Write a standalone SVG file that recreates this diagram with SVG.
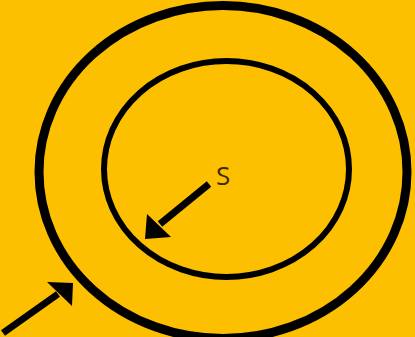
<svg xmlns="http://www.w3.org/2000/svg" width="415" height="337" viewBox="0 0 415 337">
  <style>
    .ring { fill: none; stroke: #000; }
    .shaft { stroke: #000; stroke-width: 7; stroke-linecap: butt; }
    .head { fill: #000; }
    .lbl { font-family: "Open Sans", "Liberation Sans", sans-serif; font-size: 26px; fill: #3d2c00; }
  </style>
  <rect width="415" height="337" fill="#FDC000"/>
  <g id="outer-ring">
    <ellipse class="ring" cx="223" cy="172" rx="184" ry="166.5" stroke-width="9"/>
  </g>
  <g id="inner-ring">
    <ellipse class="ring" cx="226.5" cy="169" rx="122.5" ry="108" stroke-width="6"/>
  </g>
  <g id="label-s">
    <text class="lbl" x="216" y="185">S</text>
  </g>
  <g id="connectors">
    <line class="shaft" x1="209" y1="184" x2="160" y2="224"/>
    <polygon class="head" points="145,239 147,214 171,237"/>
    <line class="shaft" x1="3" y1="333" x2="58" y2="294"/>
    <polygon class="head" points="73,283 47,282 72,306"/>
  </g>
</svg>
